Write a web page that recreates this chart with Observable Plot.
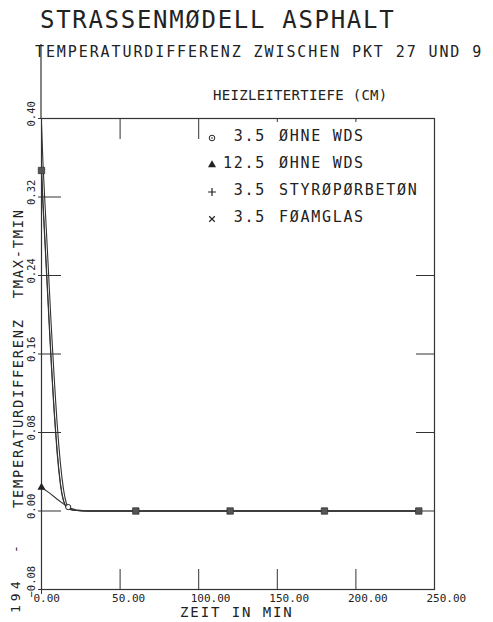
<!DOCTYPE html>
<html><head><meta charset="utf-8">
<script src="https://cdn.jsdelivr.net/npm/d3@7"></script>
<script src="https://cdn.jsdelivr.net/npm/@observablehq/plot@0.6"></script>
<style>body{margin:0;background:#fff} svg{display:block}</style>
</head><body><div id="chart"></div>
<script>
// ---- text ----
const title = "STRASSENMØDELL ASPHALT";
const subtitle = "TEMPERATURDIFFERENZ ZWISCHEN PKT 27 UND 9";
const legendTitle = "HEIZLEITERTIEFE (CM)";
const xLabel = "ZEIT IN MIN";
const yLabel = "TEMPERATURDIFFERENZ  TMAX-TMIN";
const pageNumber = "194";

// ---- ticks ----
const xTicks = [0, 50, 100, 150, 200, 250];
const yTicks = [-0.08, 0.00, 0.08, 0.16, 0.24, 0.32, 0.40];

// ---- legend ----
const legendDepth = ["3.5", "12.5", "3.5", "3.5"];
const legendName = ["ØHNE WDS", "ØHNE WDS", "STYRØPØRBETØN", "FØAMGLAS"];
const legendSymbol = ["circle", "triangle", "plus", "times"];

// ---- series (time in min, temperature difference) ----
const ohne35T = [0,1,2,3,4,5,6,7,8,9,10,11,12,13,14,15,16,17,18,20,22,25,30,40,60,120,180,240];
const ohne35V = [0.395,0.352,0.320,0.289,0.258,0.226,0.195,0.166,0.138,0.112,0.088,0.067,0.049,0.034,0.022,0.013,0.007,0.004,0.0025,0.0012,0.0006,0.0002,0,0,0,0,0,0];

const ohne125T = [0,5,10,15,18,22,26,30,60,120,180,240];
const ohne125V = [0.024,0.0185,0.012,0.006,0.003,0.0012,0.0004,0,0,0,0,0];

const styroT = [0,1,2,3,4,5,6,7,8,9,10,11,12,13,14,15,16,18,20,25,30,60,120,180,240];
const styroV = [0.347,0.310,0.279,0.248,0.217,0.186,0.156,0.128,0.102,0.079,0.058,0.041,0.027,0.017,0.010,0.006,0.0035,0.0015,0.0008,0.0002,0,0,0,0,0];

const foamT = [0,1,2,3,4,5,6,7,8,9,10,11,12,13,14,15,16,18,20,25,30,60,120,180,240];
const foamV = [0.347,0.313,0.283,0.252,0.221,0.190,0.160,0.131,0.105,0.082,0.061,0.043,0.029,0.018,0.011,0.0065,0.004,0.0018,0.0009,0.0002,0,0,0,0,0];

// overlapping plot symbols (several series coincide) and single markers
const overlapT = [0, 60, 120, 180, 240];
const overlapV = [0.347, 0, 0, 0, 0];
const circleMarkT = [17];
const circleMarkV = [0.004];
const triMarkT = [0];
const triMarkV = [0.024];

const toRows = (T, V) => T.map((t, i) => ({t, v: V[i]}));

const FONT = "DejaVu Sans Mono, monospace";
const INK = "#222";
const LINE = "#333";
const fmt = d3.format(".2f");

const plot = Plot.plot({
  width: 493, height: 622,
  marginLeft: 41, marginRight: 59, marginTop: 118, marginBottom: 33,
  x: {domain: [0, 250]},
  y: {domain: [-0.08, 0.40]},
  style: {fontFamily: FONT, color: INK, background: "#fff", overflow: "visible"},
  marks: [
    Plot.frame({stroke: LINE, strokeWidth: 1.2}),
    // ticks
    Plot.axisY({ticks: yTicks, anchor: "left", tickSize: 3, fill: "none", label: null, stroke: LINE}),
    Plot.axisY({ticks: yTicks.slice(1, -1), anchor: "left", tickSize: -20, fill: "none", label: null, stroke: LINE}),
    Plot.axisY({ticks: [0.00, 0.08, 0.16, 0.24], anchor: "right", tickSize: -19, fill: "none", label: null, stroke: LINE}),
    Plot.axisX({ticks: xTicks.slice(1, -1), anchor: "bottom", tickSize: -20, fill: "none", label: null, stroke: LINE}),
    Plot.axisX({ticks: [0], anchor: "bottom", tickSize: 5, fill: "none", label: null, stroke: LINE}),
    Plot.axisX({ticks: [50, 100], anchor: "top", tickSize: -20, fill: "none", label: null, stroke: LINE}),
    Plot.axisX({ticks: [150, 200], anchor: "top", tickSize: -3, fill: "none", label: null, stroke: LINE}),
    // tick labels
    Plot.text(yTicks, {y: d => d, frameAnchor: "left", text: d => fmt(d), rotate: -90,
      textAnchor: "start", dx: -10, dy: 8, fontSize: 10.5, fill: INK}),
    Plot.text(xTicks, {x: d => d, frameAnchor: "bottom", text: d => fmt(d),
      textAnchor: "start", dx: -8, dy: 12, fontSize: 11, fill: INK}),
    // series
    Plot.line(toRows(ohne125T, ohne125V), {x: "t", y: "v", stroke: LINE, strokeWidth: 1.1}),
    Plot.line(toRows(styroT, styroV), {x: "t", y: "v", stroke: LINE, strokeWidth: 1.1}),
    Plot.line(toRows(foamT, foamV), {x: "t", y: "v", stroke: LINE, strokeWidth: 1.0}),
    Plot.line(toRows(ohne35T, ohne35V), {x: "t", y: "v", stroke: LINE, strokeWidth: 1.1}),
    // markers
    Plot.dot(toRows(overlapT, overlapV), {x: "t", y: "v", symbol: "square", r: 3.6, fill: "#555", stroke: "#333", strokeWidth: 0.8}),
    Plot.dot(toRows(triMarkT, triMarkV), {x: "t", y: "v", symbol: "triangle", r: 3, fill: "#222", stroke: "none"}),
    Plot.dot(toRows(circleMarkT, circleMarkV), {x: "t", y: "v", symbol: "circle", r: 2.6, fill: "#fff", stroke: "#222", strokeWidth: 1})
  ]
});

document.getElementById("chart").appendChild(plot);

// ---- annotations (titles, legend, axis titles) ----
const svg = d3.select(plot);
const sx = plot.scale("x"), sy = plot.scale("y");
const x0 = sx.apply(0), yTop = sy.apply(0.40);

// left axis extends up to the subtitle
svg.append("line").attr("x1", x0).attr("x2", x0).attr("y1", 44).attr("y2", yTop)
  .attr("stroke", LINE).attr("stroke-width", 1.2);

const addText = (str, x, y, size, ls, opts = {}) => {
  const t = svg.append("text").attr("x", x).attr("y", y).text(str)
    .attr("font-family", FONT).attr("font-size", size).attr("fill", INK)
    .attr("text-anchor", opts.anchor || "start")
    .style("letter-spacing", ls + "px");
  if (opts.rotate) t.attr("transform", `rotate(${opts.rotate},${x},${y})`);
  return t;
};

addText(title, 40, 28, 24, 1.7);
addText(subtitle, 35, 57, 15, 1.9);
addText(legendTitle, 213, 100, 14, 0.3);
addText(xLabel, 180, 617, 14, 1.9);
addText(yLabel, 23, 508, 13.7, 1.75, {rotate: -90});
addText("-", 20, 553, 13, 0, {rotate: -90});
addText(pageNumber, 20, 613, 13, 4, {rotate: -90});

// legend
const symGen = {
  triangle: d3.symbol(d3.symbolTriangle, 28),
  plus: d3.symbol(d3.symbolPlus, 22),
  times: d3.symbol(d3.symbolTimes, 22)
};
legendDepth.forEach((d, i) => {
  const base = 141 + 27 * i;
  addText(d, 266, base, 15, 1.7, {anchor: "end"});
  addText(legendName[i], 279, base, 15, 1.7);
  const cx = 212, cy = base - 3;
  const s = legendSymbol[i];
  if (s === "circle") {
    svg.append("circle").attr("cx", cx).attr("cy", cy).attr("r", 2.8)
      .attr("fill", "none").attr("stroke", INK).attr("stroke-width", 1);
    svg.append("circle").attr("cx", cx).attr("cy", cy).attr("r", 0.8).attr("fill", INK);
  } else {
    const p = svg.append("path").attr("d", symGen[s]()).attr("transform", `translate(${cx},${cy})`);
    if (s === "triangle") p.attr("fill", INK);
    else p.attr("fill", "none").attr("stroke", INK).attr("stroke-width", 1.2);
  }
});
</script>
</body></html>
